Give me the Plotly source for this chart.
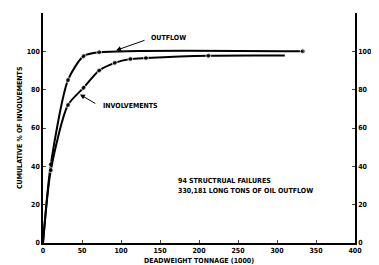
import plotly.graph_objects as go

outflow_x = [0, 10, 32, 52, 72, 333]
outflow_y = [0, 41, 85, 97.5, 99.5, 100]
outflow_marked = [False, True, True, True, True, True]

inv_x = [0, 10, 32, 52, 72, 92, 112, 132, 212, 310]
inv_y = [0, 38, 72, 81, 90, 94, 96, 96.5, 97.7, 97.8]
inv_marked = [False, True, True, True, True, True, True, True, True, False]

x_ticks = [0, 50, 100, 150, 200, 250, 300, 350, 400]
y_ticks = [0, 20, 40, 60, 80, 100]

FONT = "DejaVu Sans Condensed"
fnt = dict(family=FONT, size=7, color="black", weight="bold")

def sizes(flags):
    return [5 if f else 0 for f in flags]

fig = go.Figure()
fig.add_trace(go.Scatter(x=outflow_x, y=outflow_y, mode="lines+markers",
                         line=dict(color="black", width=2, shape="spline", smoothing=0.7),
                         marker=dict(color="black", size=sizes(outflow_marked)),
                         showlegend=False))
fig.add_trace(go.Scatter(x=inv_x, y=inv_y, mode="lines+markers",
                         line=dict(color="black", width=2, shape="spline", smoothing=0.7),
                         marker=dict(color="black", size=sizes(inv_marked)),
                         showlegend=False))
fig.add_trace(go.Scatter(x=[0], y=[0], yaxis="y2", mode="markers",
                         marker=dict(size=0, opacity=0), showlegend=False, hoverinfo="skip"))

fig.update_layout(
    width=379, height=265,
    margin=dict(l=35, r=32, t=5, b=30),
    paper_bgcolor="white", plot_bgcolor="white",
    font=fnt,
    xaxis=dict(range=[0, 400], tickvals=x_ticks, ticks="inside", ticklen=3,
               showgrid=False, zeroline=False, showline=True, linecolor="black", linewidth=1.5,
               tickfont=fnt,
               title=dict(text="DEADWEIGHT TONNAGE (1000)", font=fnt, standoff=4)),
    yaxis=dict(range=[0, 120], tickvals=y_ticks, ticks="inside", ticklen=3,
               showgrid=False, zeroline=False, showline=True, linecolor="black", linewidth=1.5,
               tickfont=fnt),
    yaxis2=dict(range=[0, 120], tickvals=y_ticks, ticks="inside", ticklen=3,
                overlaying="y", side="right",
                showgrid=False, zeroline=False, showline=True, linecolor="black", linewidth=1.5,
                tickfont=fnt),
)

# axis titles
fig.add_annotation(x=(12 - 35) / 312, y=0.5, xref="paper", yref="paper",
                   text="CUMULATIVE % OF INVOLVEMENTS", xanchor="center", borderpad=0,
                   textangle=-90, showarrow=False, font=fnt)
fig.add_annotation(x=(368 - 35) / 312, y=0.5, xref="paper", yref="paper",
                   text="CUMULATIVE % OF OIL OUTFLOW", xanchor="center", borderpad=0,
                   textangle=-90, showarrow=False, font=fnt)

# arrows
fig.add_annotation(x=93.6, y=100.5, ax=132, ay=106, xref="x", yref="y", axref="x", ayref="y",
                   text="", showarrow=True, arrowhead=2, arrowsize=1, arrowwidth=1, arrowcolor="black")
fig.add_annotation(x=47.4, y=77.5, ax=69, ay=72.3, xref="x", yref="y", axref="x", ayref="y",
                   text="", showarrow=True, arrowhead=2, arrowsize=1, arrowwidth=1, arrowcolor="black")

fig.add_annotation(x=136, y=107, xref="x", yref="y", text="OUTFLOW", showarrow=False,
                   xanchor="left", font=fnt)
fig.add_annotation(x=74, y=71.5, xref="x", yref="y", text="INVOLVEMENTS", showarrow=False,
                   xanchor="left", font=fnt)
fig.add_annotation(x=170, y=32.5, xref="x", yref="y", text="94 STRUCTRUAL FAILURES", showarrow=False,
                   xanchor="left", font=fnt)
fig.add_annotation(x=170, y=27, xref="x", yref="y", text="330,181 LONG TONS OF OIL OUTFLOW",
                   showarrow=False, xanchor="left", font=fnt)

fig.write_html("out.html")
